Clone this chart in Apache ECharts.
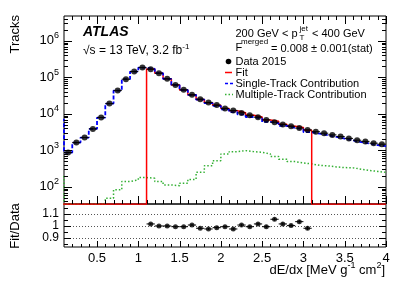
<!DOCTYPE html>
<html><head><meta charset="utf-8">
<script src="https://cdn.jsdelivr.net/npm/echarts@6/dist/echarts.min.js"></script>
<style>html,body{margin:0;padding:0;background:#fff}#c{width:407px;height:292px}</style>
</head><body><div id="c"></div>
<script>
// ---------------- data ----------------
const binCenters = [0.05,0.15,0.25,0.35,0.45,0.55,0.65,0.75,0.85,0.95,1.05,1.15,1.25,1.35,1.45,1.55,1.65,1.75,1.85,1.95,2.05,2.15,2.25,2.35,2.45,2.55,2.65,2.75,2.85,2.95,3.05,3.15,3.25,3.35,3.45,3.55,3.65,3.75,3.85,3.95];
const dataCounts = [null,871,1636,2244,3882,7925,19150,43470,89300,144200,185400,167900,130300,91000,62300,45470,33170,25290,20650,17420,14150,12470,10650,9205,8120,6850,5925,5155,4600,4080,3645,3252,2960,2660,2388,2133,1903,1765,1575,1479];
const fitTotal = [0,0,0,0,0,0,0,0,0,0,0,170750,130300,91000,61930,45200,33440,24810,20130,17180,14065,12160,10735,9150,8260,6810,6255,5240,4615,4225,3575,0,0,0,0,0,0,0,0,0];
const singleTrack = [7000,871,1636,2244,3882,7925,19150,43470,89300,144200,185400,170580,130160,90890,61820,45070,33280,24560,19750,16660,13265,11235,9750,8225,7370,6010,5580,4666,4122,3771,3148,2860,2600,2340,2100,1880,1675,1555,1385,1300];
const multiTrack = [190,0,0,0,0,0,49,83,140,155,180,173,140,113,108,126,160,250,380,520,800,925,985,925,890,800,676,574,493,454,427,388,376,353,338,332,306,283,266,250];
const ratioVals = [null,null,null,null,null,null,null,null,null,null,null,1.017,1.0,1.0,0.994,0.994,1.008,0.981,0.975,0.986,0.994,0.975,1.008,0.994,1.017,0.994,1.056,1.017,1.003,1.036,0.981,null,null,null,null,null,null,null,null,null];
const ratioErr = [null,null,null,null,null,null,null,null,null,null,null,0.005,0.005,0.006,0.006,0.007,0.007,0.008,0.008,0.009,0.009,0.010,0.010,0.011,0.011,0.012,0.012,0.013,0.013,0.014,0.014,null,null,null,null,null,null,null,null,null];
const xTickLabels = [0.5,1,1.5,2,2.5,3,3.5,4];
const yTickLabels = [100,1000,10000,100000,1000000];
const ratioTickLabels = [0.9,1,1.1];

// ---------------- layout / style ----------------
const FONT = "'Liberation Sans', Arial, Helvetica, sans-serif";
const xMin = 0.1, xMax = 4, yMin = 34, yMax = 4.8e6, rMin = 0.825, rMax = 1.183;
const halfBin = 0.05;

function floorv(v){ return v > 0 ? v : yMin*0.985; }
function histo(vals){
  const pts = binCenters.map((c,i)=>[c-halfBin, floorv(vals[i])]);
  const n = binCenters.length-1;
  pts.push([binCenters[n]+halfBin, floorv(vals[n])]);
  return pts;
}

const xMinor = []; for (let k=2;k<=39;k++){ const v=+(k/10).toFixed(1); if (xTickLabels.indexOf(v)<0) xMinor.push(v); }
const yMinor = []; for (let e=1;e<=6;e++){ for (let m=2;m<=9;m++){ const v=m*Math.pow(10,e); if (v>yMin && v<yMax) yMinor.push(v);} }
const rMinor = [0.85,0.95,1.05,1.15];

function tickSeries(gi, items, o){
  return {
    type:'custom', xAxisIndex:gi, yAxisIndex:gi, silent:true, clip:false, z:10,
    data: items.map(it => it.d==='x' ? [it.v, o.yLo] : [xMin, it.v]),
    renderItem: (params, api) => {
      const it = items[params.dataIndex];
      const ch = [];
      const st = {stroke:'#000', lineWidth:1};
      if (it.d==='x'){
        const L = it.m ? o.xMaj : o.xMin;
        const b = api.coord([it.v, o.yLo]); const x = Math.round(b[0])+0.5;
        ch.push({type:'line', shape:{x1:x,y1:b[1],x2:x,y2:b[1]-L}, style:st});
        if (o.top){ const t = api.coord([it.v, o.yHi]); ch.push({type:'line', shape:{x1:x,y1:t[1],x2:x,y2:t[1]+L}, style:st}); }
      } else {
        const L = it.m ? o.yMaj : o.yMin;
        const l = api.coord([xMin, it.v]); const r = api.coord([xMax, it.v]); const y = Math.round(l[1])+0.5;
        ch.push({type:'line', shape:{x1:l[0],y1:y,x2:l[0]+L,y2:y}, style:st});
        ch.push({type:'line', shape:{x1:r[0],y1:y,x2:r[0]-L,y2:y}, style:st});
      }
      return {type:'group', children:ch};
    }
  };
}
const mainTicks = [].concat(
  xTickLabels.map(v=>({d:'x',v,m:true})), xMinor.map(v=>({d:'x',v,m:false})),
  yTickLabels.map(v=>({d:'y',v,m:true})), yMinor.map(v=>({d:'y',v,m:false})));
const ratioTicks = [].concat(
  xTickLabels.map(v=>({d:'x',v,m:true})), xMinor.map(v=>({d:'x',v,m:false})),
  ratioTickLabels.map(v=>({d:'y',v,m:true})), rMinor.map(v=>({d:'y',v,m:false})));

const pointData = []; binCenters.forEach((c,i)=>{ if (dataCounts[i]!=null) pointData.push([c, dataCounts[i]]); });
const ratioData = []; binCenters.forEach((c,i)=>{ if (ratioVals[i]!=null) ratioData.push([c, ratioVals[i], ratioErr[i]]); });

const supRich = (bs, ss, raise) => ({
  b:{fontSize:bs, fontFamily:FONT, color:'#000', lineHeight:bs, verticalAlign:'bottom'},
  s:{fontSize:ss, fontFamily:FONT, color:'#000', lineHeight:ss, verticalAlign:'bottom', padding:[0,0,raise,0]}
});

const option = {
  animation:false,
  backgroundColor:'#fff',
  grid:[
    {left:64, top:16, width:322, height:188, show:true, borderColor:'#000', borderWidth:1, backgroundColor:'transparent'},
    {left:64, top:204, width:322, height:43, show:true, borderColor:'#000', borderWidth:1, backgroundColor:'transparent'}
  ],
  xAxis:[
    {gridIndex:0, type:'value', min:xMin, max:xMax, axisLabel:{show:false}, axisTick:{show:false}, axisLine:{show:false}, splitLine:{show:false}},
    {gridIndex:1, type:'value', min:xMin, max:xMax, axisTick:{show:false}, axisLine:{show:false}, splitLine:{show:false},
     axisLabel:{customValues:xTickLabels, fontSize:13, fontFamily:FONT, color:'#000', margin:5, hideOverlap:false}}
  ],
  yAxis:[
    {gridIndex:0, type:'log', logBase:10, min:yMin, max:yMax, axisTick:{show:false}, axisLine:{show:false}, splitLine:{show:false}, minorTick:{show:false},
     axisLabel:{customValues:yTickLabels, margin:5, hideOverlap:false, formatter:v=>'{b|10}{s|'+Math.round(Math.log10(v))+'}', rich:supRich(13,9,7)}},
    {gridIndex:1, type:'value', min:rMin, max:rMax, axisTick:{show:false}, axisLine:{show:false}, splitLine:{show:false},
     axisLabel:{customValues:ratioTickLabels, margin:5, fontSize:12, lineHeight:12, fontFamily:FONT, color:'#000', hideOverlap:false, showMinLabel:true, showMaxLabel:true,
       formatter:v=>String(+(+v).toFixed(2))}}
  ],
  series:[
    {name:'Multiple-Track Contribution', type:'line', step:'end', xAxisIndex:0, yAxisIndex:0, symbol:'none', data:histo(multiTrack),
     lineStyle:{color:'#33b033', width:1.5, type:[1.5,2]}, z:2},
    {name:'Fit', type:'line', step:'end', xAxisIndex:0, yAxisIndex:0, symbol:'none', data:histo(fitTotal),
     lineStyle:{color:'#ff0000', width:1.5}, z:3},
    {name:'Single-Track Contribution', type:'line', step:'end', xAxisIndex:0, yAxisIndex:0, symbol:'none', data:histo(singleTrack),
     lineStyle:{color:'#0000ff', width:1.8, type:[4,2]}, z:4},
    {name:'Data err', type:'custom', xAxisIndex:0, yAxisIndex:0, silent:true, z:5, data:pointData,
     renderItem:(p,api)=>{ const a=api.coord([api.value(0)-halfBin, api.value(1)]); const b=api.coord([api.value(0)+halfBin, api.value(1)]);
       return {type:'line', shape:{x1:a[0],y1:a[1],x2:b[0],y2:b[1]}, style:{stroke:'#000', lineWidth:1}}; }},
    {name:'Data 2015', type:'scatter', xAxisIndex:0, yAxisIndex:0, symbol:'circle', symbolSize:6, data:pointData, itemStyle:{color:'#000'}, z:6},
    {name:'Ratio err', type:'custom', xAxisIndex:1, yAxisIndex:1, silent:true, z:5, data:ratioData,
     renderItem:(p,api)=>{ const x=api.value(0), y=api.value(1), e=api.value(2);
       const a=api.coord([x-halfBin,y]), b=api.coord([x+halfBin,y]), c=api.coord([x,y-e]), d=api.coord([x,y+e]);
       return {type:'group', children:[
         {type:'line', shape:{x1:a[0],y1:a[1],x2:b[0],y2:b[1]}, style:{stroke:'#000', lineWidth:1}},
         {type:'line', shape:{x1:c[0],y1:c[1],x2:d[0],y2:d[1]}, style:{stroke:'#000', lineWidth:1}}]}; }},
    {name:'Ratio', type:'scatter', xAxisIndex:1, yAxisIndex:1, symbol:'circle', symbolSize:5, data:ratioData.map(r=>[r[0],r[1]]), itemStyle:{color:'#000'}, z:6,
     markLine:{silent:true, symbol:'none', label:{show:false}, lineStyle:{color:'#555', width:1, type:[1,2]},
       data:ratioTickLabels.map(v=>({yAxis:v}))}},
    tickSeries(0, mainTicks, {yLo:yMin, yHi:yMax, xMaj:8, xMin:4, yMaj:8, yMin:4, top:true}),
    tickSeries(1, ratioTicks, {yLo:rMin, yHi:rMax, xMaj:6, xMin:3, yMaj:7, yMin:4, top:false})
  ],
  graphic:[
    {type:'text', x:15, y:15, rotation:Math.PI/2, style:{text:'Tracks', fontSize:13, fontFamily:FONT, fill:'#000', align:'right', verticalAlign:'middle'}},
    {type:'text', x:15, y:226, rotation:Math.PI/2, style:{text:'Fit/Data', fontSize:13, fontFamily:FONT, fill:'#000', align:'center', verticalAlign:'middle'}},
    {type:'text', x:385, y:270, style:{text:'{b|dE/dx [MeV g}{s|-1}{b| cm}{s|2}{b|]}', rich:supRich(13,9,6), align:'right', verticalAlign:'middle'}},
    {type:'text', x:83, y:32, style:{text:'ATLAS', fontSize:14, fontStyle:'italic', fontWeight:'bold', fontFamily:FONT, fill:'#000', align:'left', verticalAlign:'middle'}},
    {type:'text', x:83, y:51, style:{text:'{b|\u221As = 13 TeV, 3.2 fb}{s|-1}', rich:supRich(12,8,6), align:'left', verticalAlign:'middle'}},
    {type:'text', x:235.5, y:34, style:{text:'200 GeV < p', fontSize:11, fontFamily:FONT, fill:'#000', align:'left', verticalAlign:'middle'}},
    {type:'text', x:299.5, y:29, style:{text:'jet', fontSize:8, fontFamily:FONT, fill:'#000', align:'left', verticalAlign:'middle'}},
    {type:'text', x:299.5, y:38, style:{text:'T', fontSize:8, fontFamily:FONT, fill:'#000', align:'left', verticalAlign:'middle'}},
    {type:'text', x:312, y:34, style:{text:'< 400 GeV', fontSize:11, fontFamily:FONT, fill:'#000', align:'left', verticalAlign:'middle'}},
    {type:'text', x:235.5, y:48, style:{text:'F', fontSize:11, fontFamily:FONT, fill:'#000', align:'left', verticalAlign:'middle'}},
    {type:'text', x:241, y:42, style:{text:'merged', fontSize:8, fontFamily:FONT, fill:'#000', align:'left', verticalAlign:'middle'}},
    {type:'text', x:271, y:48.5, style:{text:'= 0.008 \u00B1 0.001(stat)', fontSize:11, fontFamily:FONT, fill:'#000', align:'left', verticalAlign:'middle'}},
    {type:'circle', shape:{cx:228.5, cy:61.5, r:2.8}, style:{fill:'#000'}},
    {type:'text', x:235.5, y:61.5, style:{text:'Data 2015', fontSize:11, fontFamily:FONT, fill:'#000', align:'left', verticalAlign:'middle'}},
    {type:'line', shape:{x1:225, y1:72.5, x2:232, y2:72.5}, style:{stroke:'#ff0000', lineWidth:1.5}},
    {type:'text', x:235.5, y:72.5, style:{text:'Fit', fontSize:11, fontFamily:FONT, fill:'#000', align:'left', verticalAlign:'middle'}},
    {type:'line', shape:{x1:225, y1:83.5, x2:233, y2:83.5}, style:{stroke:'#0000ff', lineWidth:1.5, lineDash:[3,2]}},
    {type:'text', x:235.5, y:83.5, style:{text:'Single-Track Contribution', fontSize:11, fontFamily:FONT, fill:'#000', align:'left', verticalAlign:'middle'}},
    {type:'line', shape:{x1:225, y1:94.5, x2:233, y2:94.5}, style:{stroke:'#33b033', lineWidth:1.5, lineDash:[1.5,2]}},
    {type:'text', x:235.5, y:94.5, style:{text:'Multiple-Track Contribution', fontSize:11, fontFamily:FONT, fill:'#000', align:'left', verticalAlign:'middle'}}
  ]
};
const chart = echarts.init(document.getElementById('c'), null, {renderer:'canvas'});
chart.setOption(option);
</script></body></html>
